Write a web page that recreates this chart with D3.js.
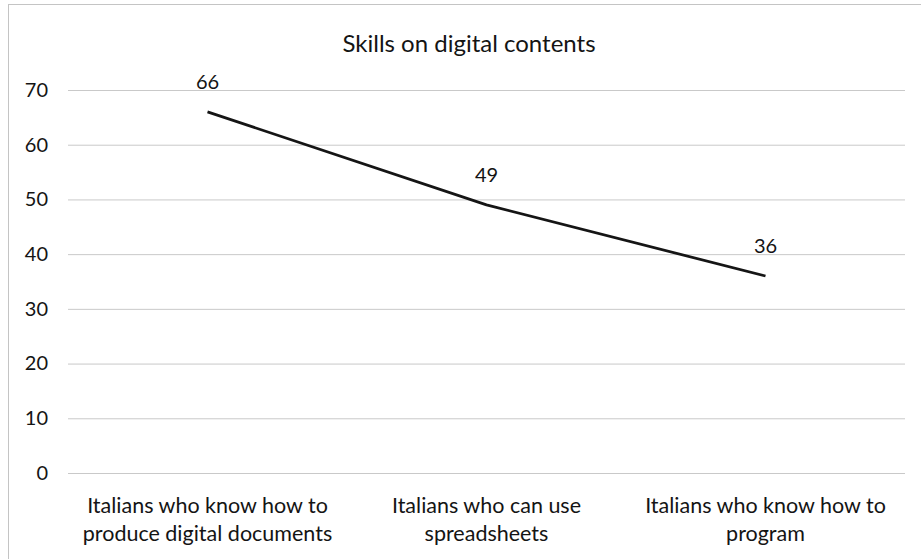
<!DOCTYPE html>
<html>
<head>
<meta charset="utf-8">
<script src="https://cdn.jsdelivr.net/npm/d3@7"></script>
<style>
  html, body { margin: 0; padding: 0; background: #fff; }
  svg { display: block; }
  text { font-family: Lato, "Open Sans", sans-serif; fill: #141414; }
</style>
</head>
<body>
<svg id="chart" width="921" height="559"></svg>
<script>
// Share of Italians with each digital-content skill (%)
const categories = [
  "Italians who know how to produce digital documents",
  "Italians who can use spreadsheets",
  "Italians who know how to program"
];
const categoryLines = [
  ["Italians who know how to", "produce digital documents"],
  ["Italians who can use", "spreadsheets"],
  ["Italians who know how to", "program"]
];
const values = [66, 49, 36];
const yTicks = [0, 10, 20, 30, 40, 50, 60, 70];
const title = "Skills on digital contents";

const svg = d3.select("#chart");
const plot = { left: 68, right: 905, top: 90, bottom: 473 };

// Frame edges (top and left)
svg.append("line")
  .attr("x1", 8).attr("x2", 921).attr("y1", 4.5).attr("y2", 4.5)
  .attr("stroke", "#c4c4c4").attr("stroke-width", 1);
svg.append("line")
  .attr("x1", 8.5).attr("x2", 8.5).attr("y1", 4).attr("y2", 559)
  .attr("stroke", "#c4c4c4").attr("stroke-width", 1);

const x = d3.scaleBand().domain(categories).range([plot.left, plot.right]);
const y = d3.scaleLinear().domain([0, 70]).range([plot.bottom, plot.top]);

// Horizontal gridlines with value labels on the left
const yAxis = d3.axisLeft(y)
  .tickValues(yTicks)
  .tickSize(-(plot.right - plot.left))
  .tickPadding(20);
const gy = svg.append("g")
  .attr("transform", `translate(${plot.left},0)`)
  .call(yAxis);
gy.select(".domain").remove();
gy.selectAll(".tick line").attr("stroke", "#c9c9c9").attr("stroke-width", 1);
gy.selectAll(".tick text")
  .attr("font-size", 20)
  .attr("font-family", "Lato, sans-serif")
  .attr("fill", "#141414");

// Category labels under the plot
const gx = svg.append("g");
categories.forEach((c, i) => {
  const cx = x(c) + x.bandwidth() / 2;
  const t = gx.append("text")
    .attr("text-anchor", "middle")
    .attr("font-size", 21.5);
  categoryLines[i].forEach((line, j) => {
    t.append("tspan")
      .attr("x", cx)
      .attr("y", 513 + j * 28)
      .text(line);
  });
});

// Data line
const line = d3.line()
  .x((d, i) => x(categories[i]) + x.bandwidth() / 2)
  .y(d => y(d));
svg.append("path")
  .datum(values)
  .attr("d", line)
  .attr("fill", "none")
  .attr("stroke", "#151515")
  .attr("stroke-width", 2.75)
  .attr("stroke-linejoin", "round");

// Value labels above each point
svg.append("g").selectAll("text")
  .data(values)
  .join("text")
  .attr("x", (d, i) => x(categories[i]) + x.bandwidth() / 2)
  .attr("y", d => y(d) - 23)
  .attr("text-anchor", "middle")
  .attr("font-size", 20)
  .text(d => d);

// Title
svg.append("text")
  .attr("x", 469)
  .attr("y", 52)
  .attr("text-anchor", "middle")
  .attr("font-size", 24)
  .text(title);
</script>
</body>
</html>
